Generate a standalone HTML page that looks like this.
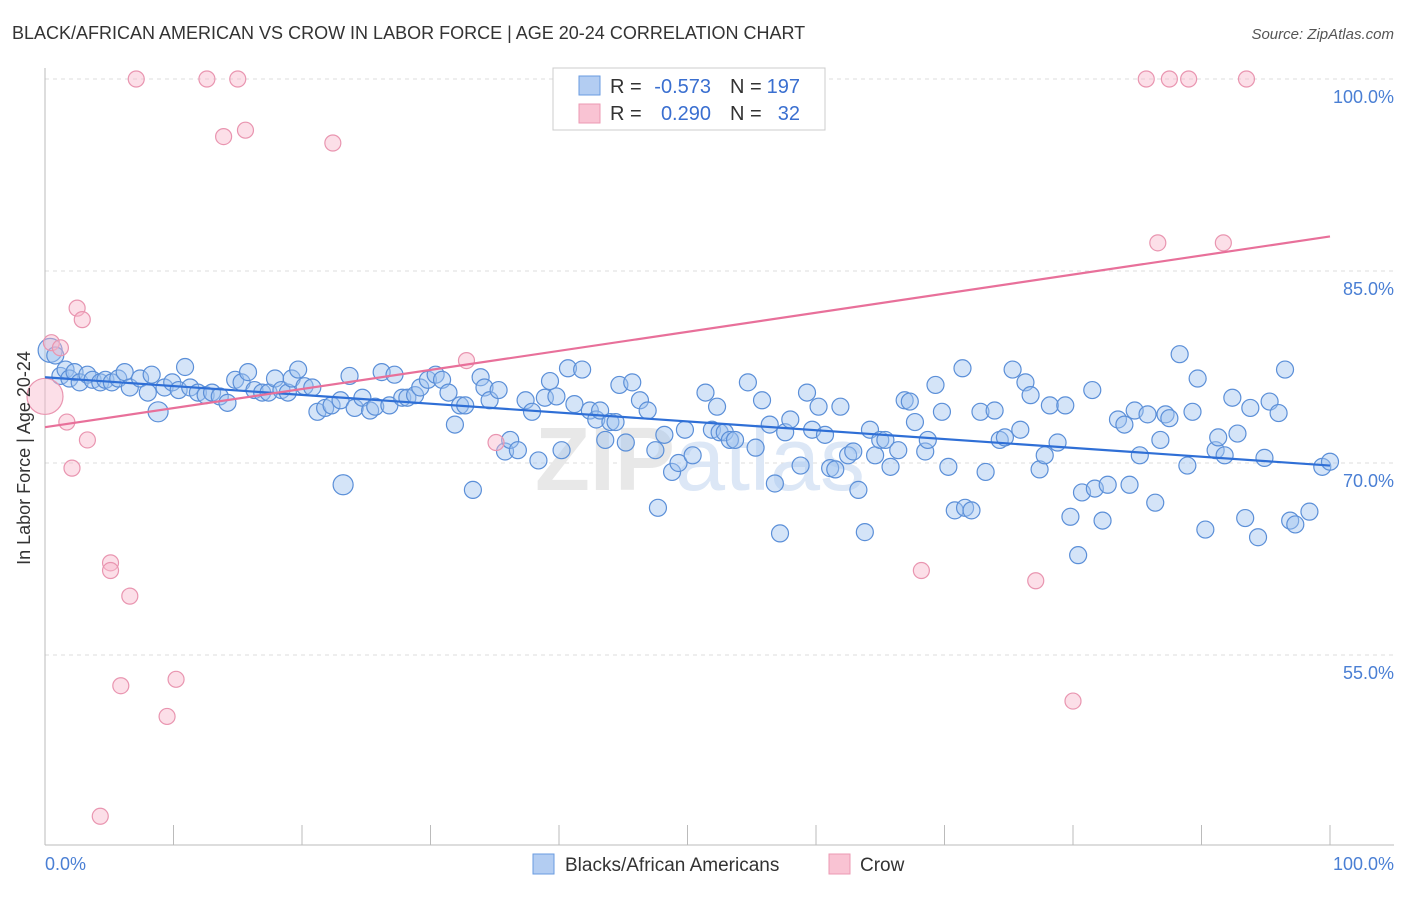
<!DOCTYPE html>
<html><head><meta charset="utf-8">
<style>
body{margin:0;background:#fff;font-family:"Liberation Sans",sans-serif;}
svg text{font-family:"Liberation Sans",sans-serif;}
</style></head>
<body>
<svg id="chart" width="1406" height="892" viewBox="0 0 1406 892">
<text x="12" y="39" font-size="18" fill="#333">BLACK/AFRICAN AMERICAN VS CROW IN LABOR FORCE | AGE 20-24 CORRELATION CHART</text>
<text x="1394" y="39" font-size="15" fill="#555" font-style="italic" text-anchor="end">Source: ZipAtlas.com</text>
<g id="grid"></g>
<text x="700" y="490" font-size="90" fill="#e8e8e8" text-anchor="middle" font-weight="bold">ZIP<tspan fill="#dce7f6" font-weight="normal">atlas</tspan></text>
<g id="pts"></g>
<g id="trend"></g>
<text x="30" y="458" font-size="18" fill="#333" text-anchor="middle" transform="rotate(-90 30 458)">In Labor Force | Age 20-24</text>
<text x="45" y="870" font-size="18" fill="#4a7fd4">0.0%</text>
<text x="1394" y="870" font-size="18" fill="#4a7fd4" text-anchor="end">100.0%</text>
<g>
<rect x="553" y="68" width="272" height="62" fill="#fff" stroke="#ccc"/>
<rect x="579" y="76" width="21" height="19" fill="#b3cdf2" stroke="#6a9be0"/>
<rect x="579" y="104" width="21" height="19" fill="#f9c3d3" stroke="#ec9ab3"/>
<text x="610" y="93" font-size="20" fill="#333">R =</text>
<text x="711" y="93" font-size="20" fill="#3a6fd0" text-anchor="end">-0.573</text>
<text x="730" y="93" font-size="20" fill="#333">N =</text>
<text x="800" y="93" font-size="20" fill="#3a6fd0" text-anchor="end">197</text>
<text x="610" y="120" font-size="20" fill="#333">R =</text>
<text x="711" y="120" font-size="20" fill="#3a6fd0" text-anchor="end">0.290</text>
<text x="730" y="120" font-size="20" fill="#333">N =</text>
<text x="800" y="120" font-size="20" fill="#3a6fd0" text-anchor="end">32</text>
</g>
<g>
<rect x="533" y="854" width="21" height="20" fill="#b3cdf2" stroke="#6a9be0"/>
<text x="565" y="871" font-size="19" fill="#333">Blacks/African Americans</text>
<rect x="829" y="854" width="21" height="20" fill="#f9c3d3" stroke="#ec9ab3"/>
<text x="860" y="871" font-size="19" fill="#333">Crow</text>
</g>
</svg>
<script>
const yTicks=[100,85,70,55];
const yTickLabels=["100.0%","85.0%","70.0%","55.0%"];
const xTicks=[0,10,20,30,40,50,60,70,80,90,100];
const blueX=[0.4,0.8,1.2,1.6,1.9,2.3,2.7,3.3,3.7,4.3,4.7,5.2,5.7,6.2,6.6,7.4,8.0,8.3,8.8,9.3,9.9,10.4,10.9,11.3,11.9,12.5,13.0,13.6,14.2,14.8,15.3,15.8,16.3,16.9,17.4,17.9,18.4,18.9,19.2,19.7,20.2,20.8,21.2,21.8,22.3,23.0,23.2,23.7,24.1,24.7,25.3,25.7,26.2,26.8,27.2,27.8,28.2,28.8,29.2,29.8,30.4,30.9,31.4,31.9,32.3,32.7,33.3,33.9,34.2,34.6,35.3,35.8,36.2,36.8,37.4,37.9,38.4,38.9,39.3,39.8,40.2,40.7,41.2,41.8,42.4,42.9,43.2,43.6,44.0,44.4,44.7,45.2,45.7,46.3,46.9,47.5,47.7,48.2,48.8,49.3,49.8,50.4,51.4,51.9,52.3,52.5,52.9,53.3,53.7,54.7,55.3,55.8,56.4,56.8,57.2,57.6,58.0,58.8,59.3,59.7,60.2,60.7,61.1,61.5,61.9,62.5,62.9,63.3,63.8,64.2,64.6,65.0,65.4,65.8,66.4,66.9,67.3,67.7,68.5,68.7,69.3,69.8,70.3,70.8,71.4,71.6,72.1,72.8,73.2,73.9,74.3,74.7,75.3,75.9,76.3,76.7,77.4,77.8,78.2,78.8,79.4,79.8,80.4,80.7,81.5,81.7,82.3,82.7,83.5,84.0,84.4,84.8,85.2,85.8,86.4,86.8,87.2,87.5,88.3,88.9,89.3,89.7,90.3,91.1,91.3,91.8,92.4,92.8,93.4,93.8,94.4,94.9,95.3,96.0,96.5,96.9,97.3,98.4,99.4,100.0];
const blueY=[78.8,78.4,76.8,77.3,76.6,77.1,76.3,76.9,76.5,76.3,76.5,76.3,76.6,77.1,75.9,76.6,75.5,76.9,74.0,75.9,76.3,75.7,77.5,75.9,75.5,75.3,75.5,75.2,74.7,76.5,76.3,77.1,75.7,75.5,75.5,76.6,75.7,75.5,76.6,77.3,76.0,75.9,74.0,74.3,74.5,74.9,68.3,76.8,74.3,75.1,74.1,74.4,77.1,74.5,76.9,75.1,75.1,75.3,75.9,76.5,76.9,76.5,75.5,73.0,74.5,74.5,67.9,76.7,75.9,74.9,75.7,70.9,71.8,71.0,74.9,74.0,70.2,75.1,76.4,75.2,71.0,77.4,74.6,77.3,74.1,73.4,74.1,71.8,73.2,73.2,76.1,71.6,76.3,74.9,74.1,71.0,66.5,72.2,69.3,70.0,72.6,70.6,75.5,72.6,74.4,72.4,72.4,71.8,71.8,76.3,71.2,74.9,73.0,68.4,64.5,72.4,73.4,69.8,75.5,72.6,74.4,72.2,69.6,69.5,74.4,70.6,70.9,67.9,64.6,72.6,70.6,71.8,71.8,69.7,71.0,74.9,74.8,73.2,70.9,71.8,76.1,74.0,69.7,66.3,77.4,66.5,66.3,74.0,69.3,74.1,71.8,72.0,77.3,72.6,76.3,75.3,69.5,70.6,74.5,71.6,74.5,65.8,62.8,67.7,75.7,68.0,65.5,68.3,73.4,73.0,68.3,74.1,70.6,73.8,66.9,71.8,73.8,73.5,78.5,69.8,74.0,76.6,64.8,71.0,72.0,70.6,75.1,72.3,65.7,74.3,64.2,70.4,74.8,73.9,77.3,65.5,65.2,66.2,69.7,70.1];
const pinkX=[0,0.5,1.2,1.7,2.1,2.5,2.9,3.3,4.3,5.1,5.1,5.9,6.6,7.1,9.5,10.2,12.6,13.9,15.0,15.6,22.4,32.8,35.1,68.2,77.1,80.0,85.7,86.6,87.5,89.0,91.7,93.5];
const pinkY=[75.2,79.4,79.0,73.2,69.6,82.1,81.2,71.8,42.4,62.2,61.6,52.6,59.6,100,50.2,53.1,100,95.5,100,96.0,95.0,78.0,71.6,61.6,60.8,51.4,100,87.2,100,100,87.2,100];
const blueTrend=[76.7,69.8];
const pinkTrend=[72.8,87.7];

const X0=45,X1=1330,YTOP=79,PXPER=12.8;
const sx=v=>X0+(X1-X0)*v/100;
const sy=v=>YTOP+(100-v)*PXPER;
const NS="http://www.w3.org/2000/svg";
function mk(tag,attrs,parent){const e=document.createElementNS(NS,tag);for(const k in attrs)e.setAttribute(k,attrs[k]);parent.appendChild(e);return e;}
const grid=document.getElementById('grid');
yTicks.forEach((t,i)=>{
  const l=mk('line',{x1:X0,x2:1394,y1:sy(t),y2:sy(t),stroke:'#dcdcdc','stroke-dasharray':'4,4'},grid);
  
  
  const tx=mk('text',{x:1394,y:sy(t)+24,'font-size':18,fill:'#4a7fd4','text-anchor':'end'},grid);
  tx.textContent=yTickLabels[i];
  
  
});
const ax=mk('line',{x1:X0,x2:1394,y1:845,y2:845,stroke:'#bbb'},grid);


const ay=mk('line',{x1:X0,x2:X0,y1:68,y2:845,stroke:'#bbb'},grid);


xTicks.forEach(t=>{
  const l=mk('line',{x1:sx(t),x2:sx(t),y1:825,y2:845,stroke:'#bbb'},grid);
  
  
});
const pts=document.getElementById('pts');
blueX.forEach((v,i)=>{
  const r=i===0?12:(i===18||i===46?10:8.5);
  const c=mk('circle',{cx:sx(v),cy:sy(blueY[i]),r:r,fill:'rgba(160,195,240,0.45)',stroke:'#5b8fd8','stroke-width':1.2},pts);
  
  
});
pinkX.forEach((v,i)=>{
  const r=i===0?18:8;
  const c=mk('circle',{cx:sx(v),cy:sy(pinkY[i]),r:r,fill:'rgba(248,185,205,0.45)',stroke:'#e995b0','stroke-width':1.2},pts);
  
  
});
const tr=document.getElementById('trend');
const bl=mk('line',{x1:sx(0),y1:sy(blueTrend[0]),x2:sx(100),y2:sy(blueTrend[1]),stroke:'#2f6fd6','stroke-width':2.2},tr);


const pl=mk('line',{x1:sx(0),y1:sy(pinkTrend[0]),x2:sx(100),y2:sy(pinkTrend[1]),stroke:'#e8709a','stroke-width':2.2},tr);


</script>
</body></html>
